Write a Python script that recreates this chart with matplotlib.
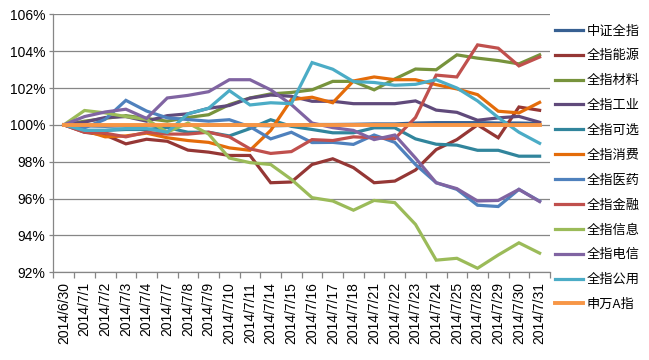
import numpy as np
import matplotlib
matplotlib.use('Agg')
import matplotlib.pyplot as plt

plt.rcParams['font.family'] = ['Noto Sans CJK SC', 'DejaVu Sans']

dates = ['2014/6/30', '2014/7/1', '2014/7/2', '2014/7/3', '2014/7/4', '2014/7/7',
         '2014/7/8', '2014/7/9', '2014/7/10', '2014/7/11', '2014/7/14', '2014/7/15',
         '2014/7/16', '2014/7/17', '2014/7/18', '2014/7/21', '2014/7/22', '2014/7/23',
         '2014/7/24', '2014/7/25', '2014/7/28', '2014/7/29', '2014/7/30', '2014/7/31']

# index values relative to 2014/6/30, in percent
zz_all = [100, 99.95, 99.93, 99.95, 99.98, 99.95, 99.97, 99.98, 100.0, 99.98, 99.95, 99.97,
          100.02, 100.02, 100.03, 100.05, 100.05, 100.1, 100.12, 100.12, 100.12, 100.1, 100.1, 100.08]
energy = [100, 99.6, 99.45, 98.97, 99.22, 99.11, 98.63, 98.52, 98.34, 98.34, 96.86, 96.9,
          97.85, 98.16, 97.68, 96.86, 96.95, 97.55, 98.66, 99.2, 100.0, 99.3, 100.97, 100.79]
materials = [100, 100.2, 100.35, 100.5, 100.35, 100.2, 100.4, 100.55, 101.1, 101.46, 101.68, 101.76,
             101.9, 102.36, 102.36, 101.9, 102.49, 103.03, 102.99, 103.8, 103.62, 103.49, 103.31, 103.8]
industry = [100, 100.15, 100.4, 100.45, 100.2, 100.5, 100.6, 100.9, 101.05, 101.45, 101.62, 101.55,
            101.28, 101.28, 101.15, 101.15, 101.15, 101.3, 100.8, 100.68, 100.25, 100.38, 100.46, 100.14]
optional = [100, 99.7, 99.7, 99.75, 99.75, 99.85, 99.6, 99.6, 99.4, 99.8, 100.28, 99.92,
            99.75, 99.57, 99.57, 99.84, 99.84, 99.24, 98.95, 98.9, 98.62, 98.62, 98.3, 98.3]
consumer = [100, 99.7, 99.35, 99.4, 99.55, 99.3, 99.15, 99.05, 98.75, 98.62, 99.7, 101.37,
            101.5, 101.2, 102.38, 102.6, 102.45, 102.45, 102.18, 101.95, 101.64, 100.74, 100.65, 101.22]
medicine = [100, 99.84, 100.3, 101.33, 100.75, 100.38, 100.29, 100.2, 100.28, 99.9, 99.24, 99.6,
            99.04, 99.05, 98.94, 99.45, 99.05, 97.85, 96.86, 96.5, 95.64, 95.57, 96.5, 95.86]
finance = [100, 99.6, 99.55, 99.35, 99.6, 99.5, 99.5, 99.6, 99.35, 98.7, 98.45, 98.55,
           99.2, 99.15, 99.35, 99.3, 99.25, 100.4, 102.7, 102.6, 104.34, 104.16, 103.2, 103.68]
info = [100, 100.78, 100.65, 100.45, 100.3, 99.6, 100.1, 99.5, 98.2, 97.95, 97.85, 97.04,
        96.05, 95.87, 95.37, 95.9, 95.78, 94.6, 92.66, 92.76, 92.22, 92.94, 93.6, 93.04]
telecom = [100, 100.45, 100.7, 100.85, 100.35, 101.46, 101.6, 101.8, 102.45, 102.45, 101.9, 101.1,
           100.1, 99.85, 99.7, 99.2, 99.45, 98.2, 96.86, 96.54, 95.87, 95.9, 96.5, 95.84]
utility = [100, 99.7, 99.7, 99.8, 99.8, 99.6, 100.6, 100.9, 101.86, 101.08, 101.2, 101.15,
           103.38, 103.02, 102.35, 102.3, 102.15, 102.2, 102.45, 102.0, 101.3, 100.4, 99.6, 99.0]
sw_a = [100] * len(dates)

names = ['中证全指', '全指能源', '全指材料', '全指工业', '全指可选', '全指消费',
         '全指医药', '全指金融', '全指信息', '全指电信', '全指公用', '申万A指']
series = [zz_all, energy, materials, industry, optional, consumer,
          medicine, finance, info, telecom, utility, sw_a]
colors = ['#376092', '#953735', '#77933C', '#604A7B', '#31859C', '#E46C0A',
          '#4F81BD', '#C0504D', '#9BBB59', '#8064A2', '#4BACC6', '#F79646']

fig = plt.figure(figsize=(6.49, 3.6), dpi=100)
ax = fig.add_axes([0.0824, 0.2436, 0.765, 0.7167])

x = np.arange(len(dates))
for vals, name, c in zip(series, names, colors):
    lw = 2.8 if name == '申万A指' else 2.3
    ax.plot(x, vals, color=c, linewidth=lw, label=name, solid_joinstyle='miter')

ax.set_xlim(-0.5, len(dates) - 0.5)
ax.set_ylim(92, 106)
ax.set_yticks(np.arange(92, 107, 2))
ax.set_yticklabels(['%d%%' % v for v in np.arange(92, 107, 2)],
                   family='Liberation Sans', fontsize=10)
ax.yaxis.grid(True, color='#868686', linewidth=0.9)
ax.set_axisbelow(True)

ax.set_xticks(x)
ax.set_xticklabels(dates, rotation=90, family='Liberation Sans', fontsize=10)
ax.set_xticks(np.arange(-0.5, len(dates), 1), minor=True)
ax.tick_params(axis='x', which='major', length=0, pad=7)
ax.tick_params(axis='x', which='minor', length=4, color='#868686', width=0.9)
ax.tick_params(axis='y', length=3, color='#868686', width=0.9, pad=3)

for side in ['top', 'right']:
    ax.spines[side].set_visible(False)
for side in ['left', 'bottom']:
    ax.spines[side].set_color('#868686')
    ax.spines[side].set_linewidth(0.9)

fig.legend(loc='upper left', bbox_to_anchor=(0.855, 0.932), frameon=False,
           fontsize=9.5, handlelength=2.1, handletextpad=0.3, labelspacing=0.9,
           borderpad=0, borderaxespad=0)

fig.savefig('out.png', dpi=100)
